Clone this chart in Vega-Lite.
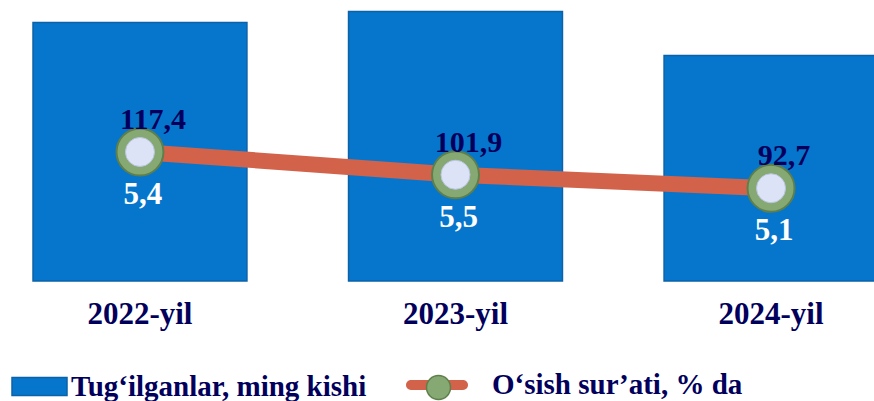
{
  "$schema": "https://vega.github.io/schema/vega-lite/v6.json",
  "width": 874,
  "height": 281,
  "autosize": {"type": "none"},
  "padding": {"left": 0, "top": 0, "right": 0, "bottom": 120},
  "background": "white",
  "data": {"values": [
    {"year": "2022-yil", "births": 117.4, "rate": 5.4},
    {"year": "2023-yil", "births": 101.9, "rate": 5.5},
    {"year": "2024-yil", "births": 92.7, "rate": 5.1}
  ]},
  "encoding": {
    "x": {
      "field": "year", "type": "nominal", "sort": null, "title": null,
      "scale": {"range": [0, 911], "paddingInner": 0.322, "paddingOuter": 0.1046},
      "axis": {"labelAngle": 0, "domain": false, "ticks": false, "grid": false, "zindex": 1,
        "labelFont": "Liberation Serif", "labelFontSize": 31, "labelFontWeight": "bold",
        "labelColor": "#00005C", "labelPadding": 18}
    }
  },
  "layer": [
    {
      "mark": {"type": "bar", "stroke": "#0B62A8", "strokeWidth": 1.5},
      "encoding": {
        "y": {"field": "rate", "type": "quantitative", "axis": null,
          "scale": {"domain": [3.05, 5.6045], "zero": false, "nice": false}},
        "y2": {"datum": 3.05},
        "fill": {"datum": "Tug‘ilganlar, ming kishi", "type": "nominal",
          "scale": {"range": ["#0676CC"]},
          "legend": {"orient": "none", "legendX": 11, "legendY": 358, "title": null,
            "symbolType": "M-1,-0.33H1V0.33H-1Z", "symbolSize": 3025, "labelOffset": 3,
            "encode": {"symbols": {"update": {"fill": {"value": "#0676CC"}, "stroke": {"value": "#0B62A8"}, "strokeWidth": {"value": 1}}}}}}
      }
    },
    {
      "mark": {"type": "line", "strokeWidth": 16, "strokeCap": "butt"},
      "encoding": {
        "y": {"field": "births", "type": "quantitative", "axis": null,
          "scale": {"domain": [29.6, 220.8], "zero": false, "nice": false}},
        "stroke": {"datum": "O‘sish sur’ati, % da", "type": "nominal",
          "scale": {"range": ["#D2634A"]},
          "legend": {"orient": "none", "legendX": 406, "legendY": 354, "title": null, "zindex": 1,
            "symbolType": "M-0.84,-0.16H0.84A0.16,0.16 0 0 1 0.84,0.16H-0.84A0.16,0.16 0 0 1 -0.84,-0.16Z",
            "symbolSize": 3844, "labelOffset": 24,
            "encode": {"symbols": {"update": {"fill": {"value": "#D2634A"}, "stroke": {"value": "#D2634A"}, "strokeWidth": {"value": 0}}}}}}
      }
    },
    {
      "mark": {"type": "point", "filled": true, "size": 2209, "fill": "#86A872", "stroke": "#5F7F4A", "strokeWidth": 2, "opacity": 1},
      "encoding": {
        "y": {"field": "births", "type": "quantitative", "axis": null,
          "scale": {"domain": [29.6, 220.8], "zero": false, "nice": false}},
        "shape": {"datum": "•", "type": "nominal",
          "scale": {"range": ["circle"]},
          "legend": {"orient": "none", "legendX": 424, "legendY": 373, "title": null, "zindex": 2,
            "symbolSize": 576, "labelExpr": "''", "labelOffset": 0,
            "encode": {"symbols": {"update": {"fill": {"value": "#7C9E67"}, "stroke": {"value": "#56743F"}, "strokeWidth": {"value": 1}, "opacity": {"value": 1}}}}}}
      }
    },
    {
      "mark": {"type": "point", "filled": true, "size": 841, "fill": "#DDE3F7", "stroke": "#B9C4E0", "strokeWidth": 1, "opacity": 1, "shape": "circle"},
      "encoding": {
        "y": {"field": "births", "type": "quantitative", "axis": null,
          "scale": {"domain": [29.6, 220.8], "zero": false, "nice": false}}
      }
    },
    {
      "mark": {"type": "text", "font": "Liberation Serif", "fontSize": 30, "fontWeight": "bold", "color": "#00005C", "dx": 13, "dy": -32, "baseline": "middle", "align": "center"},
      "encoding": {
        "y": {"field": "births", "type": "quantitative", "axis": null,
          "scale": {"domain": [29.6, 220.8], "zero": false, "nice": false}},
        "text": {"field": "births", "type": "quantitative", "format": ".1f"}
      }
    },
    {
      "mark": {"type": "text", "font": "Liberation Serif", "fontSize": 31, "fontWeight": "bold", "color": "#FFFFFF", "dx": 3, "dy": 43, "baseline": "middle", "align": "center"},
      "encoding": {
        "y": {"field": "births", "type": "quantitative", "axis": null,
          "scale": {"domain": [29.6, 220.8], "zero": false, "nice": false}},
        "text": {"field": "rate", "type": "quantitative", "format": ".1f"}
      }
    }
  ],
  "resolve": {"scale": {"y": "independent"}},
  "config": {
    "view": {"stroke": null},
    "locale": {"number": {"decimal": ",", "thousands": " ", "grouping": [3], "currency": ["", ""]}},
    "legend": {"labelFont": "Liberation Serif", "labelFontSize": 29, "labelFontWeight": "bold",
      "labelColor": "#00005C", "labelLimit": 600, "padding": 0, "offset": 0}
  }
}
